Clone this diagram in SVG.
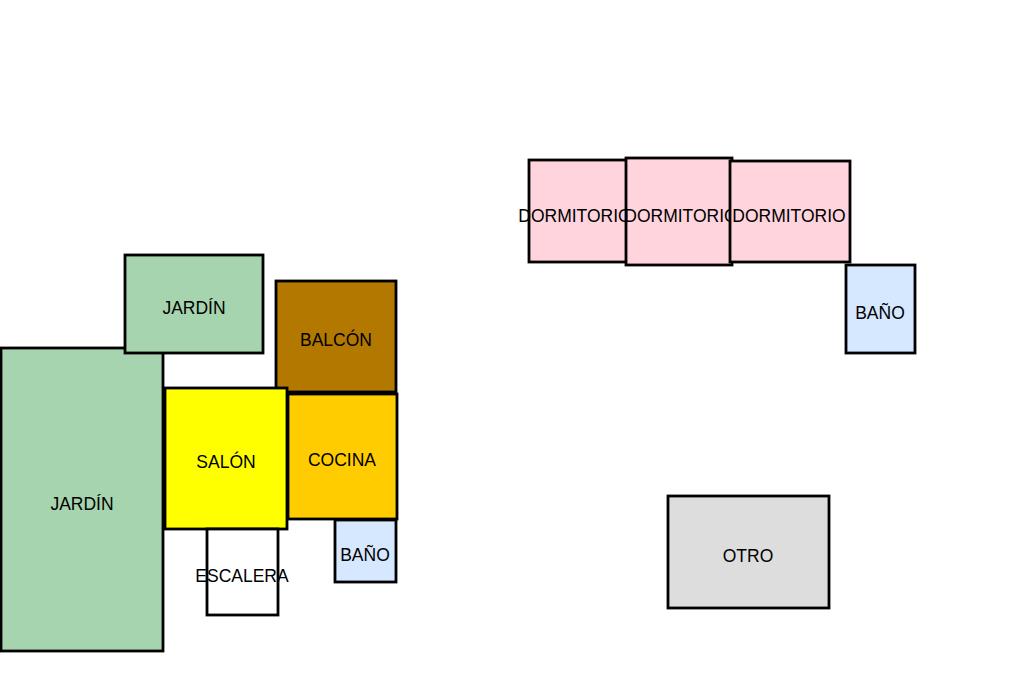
<svg xmlns="http://www.w3.org/2000/svg" width="1024" height="682" viewBox="0 0 1024 682">
<style>
.r{stroke:#000;stroke-width:2.8}
.t{font-family:"Liberation Sans",Arial,sans-serif;font-size:17.5px;fill:#000;text-anchor:middle}
.g{fill:#A6D4AE}.y{fill:#FFFF00}.c{fill:#FFCC00}.b{fill:#B27800}.w{fill:#D6E8FF}.p{fill:#FFD4DC}.o{fill:#DDDDDD}.e{fill:#FFFFFF}
</style>
<rect width="1024" height="682" fill="#fff"/>
<g id="jardin-grande"><rect class="r g" x="1" y="348" width="162" height="303"/><text class="t" x="82" y="510">JARDÍN</text></g>
<g id="jardin-pequeno"><rect class="r g" x="125" y="255" width="138" height="98"/><text class="t" x="194" y="314">JARDÍN</text></g>
<g id="balcon"><rect class="r b" x="276" y="281" width="120" height="111"/><text class="t" x="336" y="346">BALCÓN</text></g>
<g id="salon"><rect class="r y" x="165" y="388" width="122" height="141"/><text class="t" x="226" y="468">SALÓN</text></g>
<g id="cocina"><rect class="r c" x="288" y="394" width="109" height="125"/><text class="t" x="342" y="466">COCINA</text></g>
<g id="bano-1"><rect class="r w" x="335" y="520" width="61" height="62"/><text class="t" x="365" y="561">BAÑO</text></g>
<g id="escalera"><rect class="r e" x="207" y="529" width="71" height="86"/><text class="t" x="242" y="582">ESCALERA</text></g>
<g id="dormitorio-1"><rect class="r p" x="529" y="160" width="98" height="102"/><text class="t" x="575" y="222">DORMITORIO</text></g>
<g id="dormitorio-2"><rect class="r p" x="626" y="158" width="106" height="107"/><text class="t" x="681" y="222">DORMITORIO</text></g>
<g id="dormitorio-3"><rect class="r p" x="730" y="161" width="120" height="101"/><text class="t" x="789" y="222">DORMITORIO</text></g>
<g id="bano-2"><rect class="r w" x="846" y="265" width="69" height="88"/><text class="t" x="880" y="319">BAÑO</text></g>
<g id="otro"><rect class="r o" x="668" y="496" width="161" height="112"/><text class="t" x="748" y="562">OTRO</text></g>
<g id="connectors"/>
</svg>
